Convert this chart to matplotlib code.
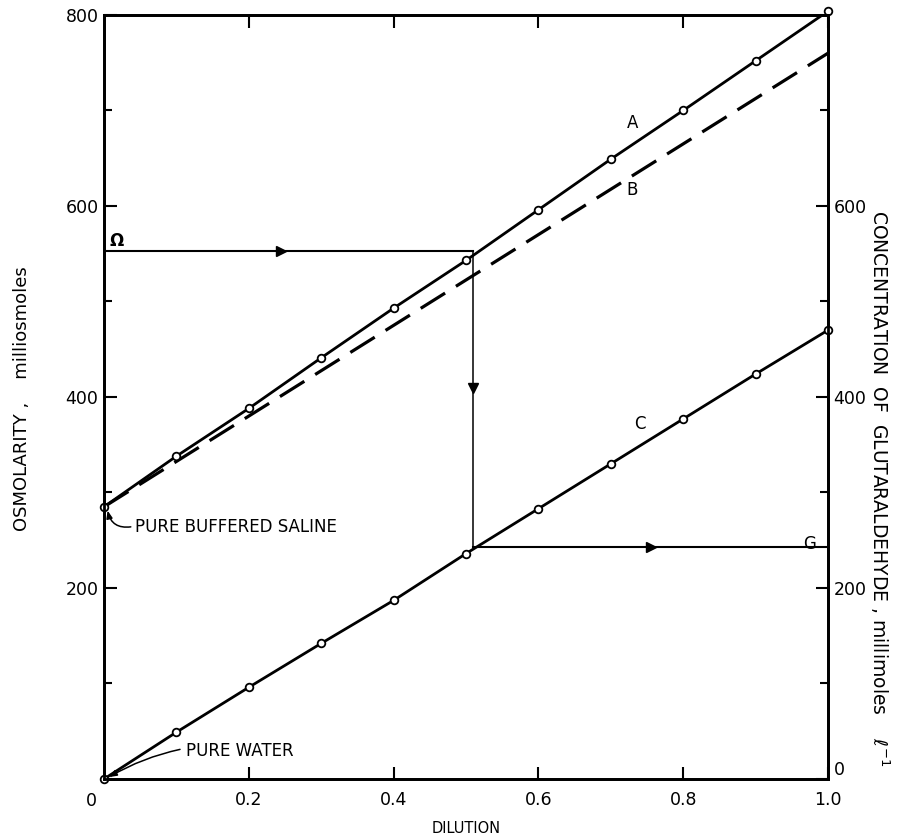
import matplotlib
matplotlib.use("Agg")
import matplotlib.pyplot as plt
from matplotlib.ticker import MultipleLocator, FixedLocator

# Dilution of the fixative mixture (fraction)
dilution = [0.0, 0.1, 0.2, 0.3, 0.4, 0.5, 0.6, 0.7, 0.8, 0.9, 1.0]
# A: measured osmolarity, milliosmoles
osm_A = [285, 338, 388, 441, 493, 543, 596, 649, 700, 752, 804]
# B: calculated osmolarity (straight line between the end points)
dil_B = [0.0, 1.0]
osm_B = [285, 760]
# C: glutaraldehyde concentration, millimoles per litre
glut_C = [0, 49, 96, 142, 187, 236, 283, 330, 377, 424, 470]

# Worked example: target osmolarity Omega -> dilution -> concentration G
omega_val = 553
omega_dil = 0.51
g_val = 243

xticks = [0.2, 0.4, 0.6, 0.8, 1.0]
xtick_labels = ["0.2", "0.4", "0.6", "0.8", "1.0"]
yticks = [200, 400, 600, 800]
rticks = [0, 200, 400, 600]

plt.rcParams["font.family"] = ["DejaVu Sans"]

fig = plt.figure(figsize=(9.1, 8.36), dpi=100)
ax = fig.add_axes([0.1143, 0.0682, 0.7956, 0.9139])
ax.set_xlim(0, 1.0)
ax.set_ylim(0, 800)

for s in ax.spines.values():
    s.set_linewidth(2.0)

# curves
ax.plot(dilution, osm_A, color="black", lw=2.0, zorder=3)
ax.plot(dilution, osm_A, linestyle="none", marker="o", ms=5.5, mfc="white",
        mec="black", mew=1.3, zorder=4, clip_on=False)
ax.plot(dil_B, osm_B, color="black", lw=2.3, dashes=(9, 4), zorder=3)
ax.plot(dilution, glut_C, color="black", lw=2.0, zorder=3)
ax.plot(dilution, glut_C, linestyle="none", marker="o", ms=5.5, mfc="white",
        mec="black", mew=1.3, zorder=4, clip_on=False)

# construction lines
ax.plot([0, omega_dil], [omega_val, omega_val], color="black", lw=1.5, zorder=2)
ax.plot([omega_dil, omega_dil], [omega_val, g_val], color="black", lw=1.1, zorder=2)
ax.plot([omega_dil, 1.0], [g_val, g_val], color="black", lw=1.5, zorder=2)
ax.plot([0.245], [omega_val], marker=">", ms=7, color="black", zorder=3)
ax.plot([omega_dil], [409], marker="v", ms=7, color="black", zorder=3)
ax.plot([0.755], [g_val], marker=">", ms=7, color="black", zorder=3)

# text labels
fs = 12
ax.text(0.73, 687, "A", fontsize=fs, ha="center", va="center")
ax.text(0.73, 617, "B", fontsize=fs, ha="center", va="center")
ax.text(0.74, 372, "C", fontsize=fs, ha="center", va="center")
ax.text(0.018, 563, "\u03A9", fontsize=fs, fontweight="bold", ha="center", va="center")
ax.text(0.975, 246, "G", fontsize=fs, ha="center", va="center")

ax.text(0.043, 264, "PURE BUFFERED SALINE", fontsize=fs, ha="left", va="center")
ax.annotate("", xy=(0.005, 281), xytext=(0.037, 264),
            arrowprops=dict(arrowstyle="-|>,head_length=0.45,head_width=0.18",
                            color="black", lw=1.1, shrinkA=0, shrinkB=0,
                            connectionstyle="arc3,rad=-0.45"))
ax.text(0.113, 29, "PURE WATER", fontsize=fs, ha="left", va="center")
ax.annotate("", xy=(0.007, 2), xytext=(0.105, 31),
            arrowprops=dict(arrowstyle="-|>,head_length=0.45,head_width=0.18",
                            color="black", lw=1.1, shrinkA=0, shrinkB=0,
                            connectionstyle="arc3,rad=0.08"))

# left / bottom ticks
ax.xaxis.set_major_locator(FixedLocator(xticks))
ax.set_xticklabels(xtick_labels)
ax.yaxis.set_major_locator(FixedLocator(yticks))
ax.yaxis.set_minor_locator(MultipleLocator(100))
ax.tick_params(axis="both", which="both", direction="in", width=1.5,
               labelsize=12.5, top=True, right=False)
ax.tick_params(axis="both", which="major", length=9)
ax.tick_params(axis="y", which="minor", length=6)
ax.tick_params(axis="x", which="major", pad=9)
ax.tick_params(axis="y", which="major", pad=4)
ax.text(-0.017, -14, "0", fontsize=12.5, ha="center", va="top",
        transform=ax.transData, clip_on=False)

ax.set_xlabel("DILUTION", fontsize=10.5, labelpad=8)

# right axis: glutaraldehyde concentration
rax = ax.twinx()
rax.set_ylim(0, 800)
rax.yaxis.set_major_locator(FixedLocator(rticks))
rax.yaxis.set_minor_locator(MultipleLocator(100))
rax.tick_params(axis="y", which="both", direction="in", width=1.5,
                labelsize=12.5, pad=4)
rax.tick_params(axis="y", which="major", length=9)
rax.tick_params(axis="y", which="minor", length=6)
for lbl in rax.get_yticklabels():
    if lbl.get_text() == "0":
        lbl.set_va("bottom")
for s in rax.spines.values():
    s.set_linewidth(2.0)

fig.text(0.024, 0.523, "OSMOLARITY ,    milliosmoles", rotation=90,
         fontsize=13, ha="center", va="center")
fig.text(0.967, 0.416,
         "CONCENTRATION  OF  GLUTARALDEHYDE , millimoles    $\\ell^{-1}$",
         rotation=-90, fontsize=13.5, ha="center", va="center")

fig.savefig("out.png", dpi=100)
